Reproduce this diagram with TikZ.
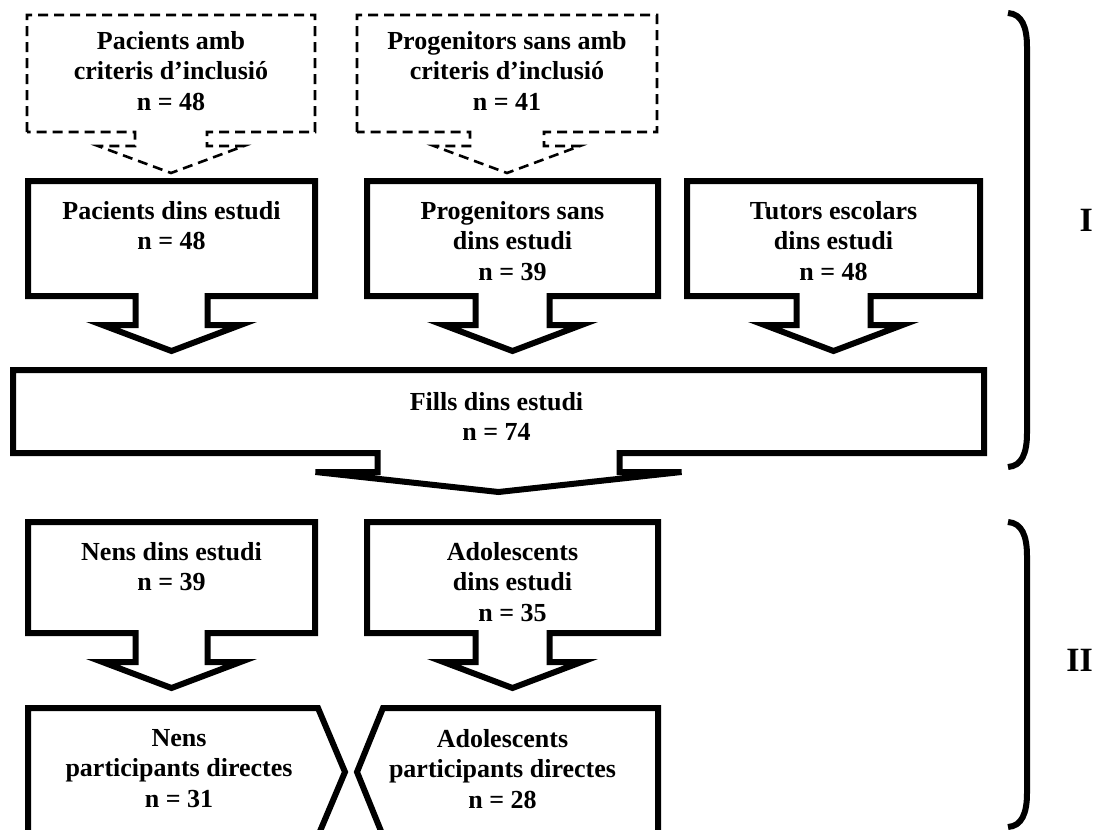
\documentclass[tikz,border=0pt]{standalone}
\usepackage{fontspec}
\setmainfont{Liberation Serif}
\usetikzlibrary{
  positioning,
  calc,
  fit
}
\tikzset{
  boxarea/.style={
    rectangle, draw=none, inner sep=0pt, outer sep=0pt
  },
  solidline/.style={
    draw=black, fill=white, line width=6pt, line join=miter
  },
  dashline/.style={
    draw=black, fill=white, line width=2.6pt, dash pattern=on 10pt off 6pt
  },
  boxtext/.style={
    font=\fontsize{26}{30.5}\selectfont\bfseries, align=center, inner sep=0pt
  },
  stagetext/.style={
    font=\fontsize{34}{40}\selectfont\bfseries, inner sep=0pt
  },
  braceline/.style={
    draw=black, line width=6pt
  },
}
% box with a block arrow below it: style, box, stem half width, head half width, stem length, head length
\newcommand{\downarrowbox}[6]{%
  \draw[#1] (#2.south west) -- (#2.north west) -- (#2.north east) -- (#2.south east)
    -- ($(#2.south)+(#3,0)$) -- ($(#2.south)+(#3,#5)$) -- ($(#2.south)+(#4,#5)$)
    -- ($(#2.south)+(0,#5+#6)$)
    -- ($(#2.south)+(-#4,#5)$) -- ($(#2.south)+(-#3,#5)$) -- ($(#2.south)+(-#3,0)$) -- cycle;
}
% bracket on the right: top end, bottom end
\newcommand{\stagebrace}[2]{%
  \draw[braceline] (#1) .. controls ($(#1)+(14,1)$) and ($(#1)+(19,14)$) .. ($(#1)+(19,34)$)
    -- ($(#2)+(19,-34)$) .. controls ($(#2)+(19,-14)$) and ($(#2)+(14,-1)$) .. (#2);
}

\begin{document}
\begin{tikzpicture}[x=1pt, y=-1pt]
  \useasboundingbox (0,0) rectangle (1098,830);
  \clip (0,0) rectangle (1098,830);

  % box areas
  \node[boxarea, fit={(27,15) (315,132)}]   (pacdash) {};
  \node[boxarea, fit={(357,15) (657,132)}]  (prodash) {};
  \node[boxarea, fit={(28,181) (315,296)}]  (pacbox) {};
  \node[boxarea, fit={(367,181) (658,296)}] (probox) {};
  \node[boxarea, fit={(687,181) (980,296)}] (tutbox) {};
  \node[boxarea, fit={(13,370) (984,453)}]  (fillbox) {};
  \node[boxarea, fit={(28,522) (315,633)}]  (nensbox) {};
  \node[boxarea, fit={(367,522) (658,633)}] (adobox) {};
  \node[boxarea, fit={(28,708) (318,836)}]  (nenspart) {};
  \node[boxarea, fit={(383,708) (658,836)}] (adopart) {};

  % outlines
  \downarrowbox{dashline}{pacdash}{36}{73}{14}{27}
  \downarrowbox{dashline}{prodash}{37}{73}{14}{27}
  \downarrowbox{solidline}{pacbox}{36}{69}{29}{26}
  \downarrowbox{solidline}{probox}{37}{69}{29}{26}
  \downarrowbox{solidline}{tutbox}{37}{69}{29}{26}
  \downarrowbox{solidline}{fillbox}{121}{183}{19}{20}
  \downarrowbox{solidline}{nensbox}{36}{69}{29}{26}
  \downarrowbox{solidline}{adobox}{37}{69}{29}{26}
  \draw[solidline] (nenspart.south west) -- (nenspart.north west) -- (nenspart.north east)
    -- ($(nenspart.east)+(27,0)$) -- (nenspart.south east) -- cycle;
  \draw[solidline] (adopart.south east) -- (adopart.north east) -- (adopart.north west)
    -- ($(adopart.west)+(-26,0)$) -- (adopart.south west) -- cycle;

  % texts
  \node[boxtext, below=16pt of pacdash.north] (pacdashtxt) {Pacients amb\\criteris d'inclusió\\n = 48};
  \node[boxtext, below=16pt of prodash.north] (prodashtxt) {Progenitors sans amb\\criteris d'inclusió\\n = 41};
  \node[boxtext, below=20pt of pacbox.north]  (pactxt) {Pacients dins estudi\\n = 48};
  \node[boxtext, below=20pt of probox.north]  (protxt) {Progenitors sans\\dins estudi\\n = 39};
  \node[boxtext, below=20pt of tutbox.north]  (tuttxt) {Tutors escolars\\dins estudi\\n = 48};
  \node[boxtext, below=22pt of fillbox.north, xshift=-2pt] (filltxt) {Fills dins estudi\\n = 74};
  \node[boxtext, below=20pt of nensbox.north] (nenstxt) {Nens dins estudi\\n = 39};
  \node[boxtext, below=20pt of adobox.north]  (adotxt) {Adolescents\\dins estudi\\n = 35};
  \node[boxtext, below=21pt of nenspart.north, xshift=6pt]  (nensparttxt) {Nens\\participants directes\\n = 31};
  \node[boxtext, below=21pt of adopart.north, xshift=-18pt] (adoparttxt) {Adolescents\\participants directes\\n = 28};

  % stages
  \coordinate (onetop) at (1008,13);
  \coordinate (onebot) at (1008,467);
  \coordinate (twotop) at (1008,522);
  \coordinate (twobot) at (1008,827);
  \stagebrace{onetop}{onebot}
  \stagebrace{twotop}{twobot}
  \node[stagetext, anchor=east] (stageone) at (1093,220) {I};
  \node[stagetext, anchor=east] (stagetwo) at (1093,660) {II};
\end{tikzpicture}
\end{document}
